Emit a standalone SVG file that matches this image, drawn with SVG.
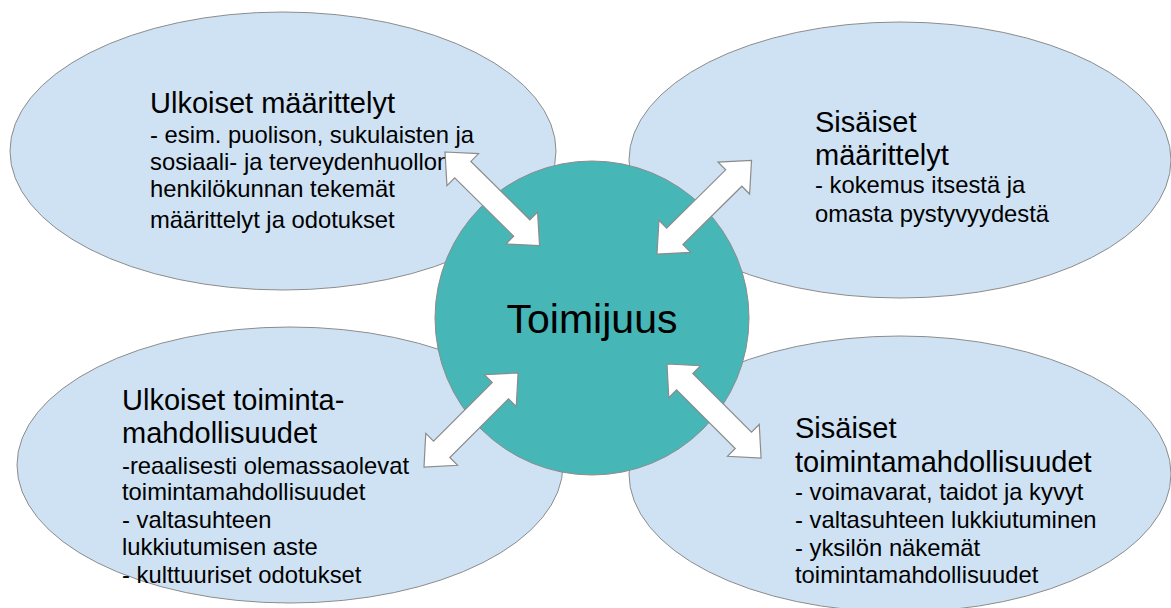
<svg xmlns="http://www.w3.org/2000/svg" xmlns:xlink="http://www.w3.org/1999/xlink" width="1171" height="608" viewBox="0 0 1171 608">
<style>
.ell{fill:#cfe2f3;stroke:#8c8c8c;stroke-width:1}
.core{fill:#46b6b6;stroke:#8c8c8c;stroke-width:1}
.arrow{fill:#ffffff;stroke:#8c8c8c;stroke-width:1.2;stroke-linejoin:miter}
text{font-family:"Liberation Sans",Arial,sans-serif;fill:#000}
.t{font-size:29px}
.b{font-size:23.8px}
.c{font-size:41px}
</style>
<defs>
<polygon id="arr" class="arrow" points="0,0 25,-22.5 25,-11.5 108,-11.5 108,-22.5 133,0 108,22.5 108,11.5 25,11.5 25,22.5"/>
</defs>
<rect width="1171" height="608" fill="#ffffff"/>
<g id="node-ulkoiset-maarittelyt">
<ellipse class="ell" cx="283" cy="151" rx="273" ry="139"/>
<text class="t" x="150" y="113">Ulkoiset määrittelyt</text>
<text class="b" x="150" y="143">- esim. puolison, sukulaisten ja</text>
<text class="b" x="150" y="170">sosiaali- ja terveydenhuollon</text>
<text class="b" x="150" y="197">henkilökunnan tekemät</text>
<text class="b" x="150" y="228">määrittelyt ja odotukset</text>
</g>
<g id="node-sisaiset-maarittelyt">
<ellipse class="ell" cx="900" cy="160" rx="271" ry="138"/>
<text class="t" x="815" y="132">Sisäiset</text>
<text class="t" x="815" y="165">määrittelyt</text>
<text class="b" x="815" y="193">- kokemus itsestä ja</text>
<text class="b" x="815" y="222">omasta pystyvyydestä</text>
</g>
<g id="node-ulkoiset-toimintamahdollisuudet">
<ellipse class="ell" cx="290" cy="465" rx="273" ry="138"/>
<text class="t" x="122" y="410">Ulkoiset toiminta-</text>
<text class="t" x="122" y="443">mahdollisuudet</text>
<text class="b" x="122" y="474">-reaalisesti olemassaolevat</text>
<text class="b" x="122" y="500">toimintamahdollisuudet</text>
<text class="b" x="122" y="528">- valtasuhteen</text>
<text class="b" x="122" y="555">lukkiutumisen aste</text>
<text class="b" x="122" y="583">- kulttuuriset odotukset</text>
</g>
<g id="node-sisaiset-toimintamahdollisuudet">
<ellipse class="ell" cx="900" cy="474" rx="271" ry="138"/>
<text class="t" x="795" y="438">Sisäiset</text>
<text class="t" x="795" y="472">toimintamahdollisuudet</text>
<text class="b" x="795" y="500">- voimavarat, taidot ja kyvyt</text>
<text class="b" x="795" y="528">- valtasuhteen lukkiutuminen</text>
<text class="b" x="795" y="556">- yksilön näkemät</text>
<text class="b" x="795" y="583">toimintamahdollisuudet</text>
</g>
<g id="node-toimijuus">
<circle class="core" cx="592" cy="318" r="157"/>
<text class="c" x="592" y="333" text-anchor="middle">Toimijuus</text>
</g>
<g id="connectors">
<use xlink:href="#arr" transform="translate(445,152) rotate(44.7)"/>
<use xlink:href="#arr" transform="translate(657,254) rotate(-44.7)"/>
<use xlink:href="#arr" transform="translate(424,467) rotate(-45)"/>
<use xlink:href="#arr" transform="translate(667,364) rotate(45)"/>
</g>
</svg>
